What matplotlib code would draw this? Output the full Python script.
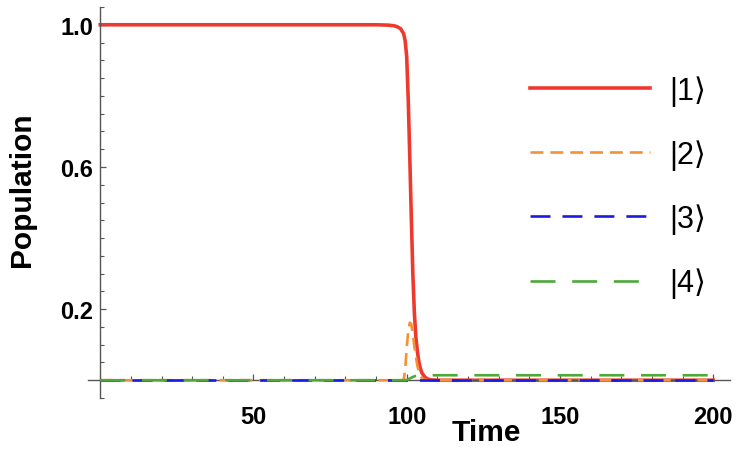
import matplotlib
matplotlib.use("Agg")
import matplotlib.pyplot as plt
from matplotlib.ticker import FixedLocator, MultipleLocator

plt.rcParams['font.family'] = ['Liberation Sans', 'DejaVu Sans']
plt.rcParams['lines.scale_dashes'] = False

# Data
time = [0, 90, 94, 96, 97, 98, 99, 99.5, 100, 100.5, 101, 101.5, 102, 102.5, 103,
        103.5, 104, 104.5, 105, 106, 107, 108, 110, 150, 200]
pop1 = [1.0, 1.0, 0.999, 0.997, 0.994, 0.989, 0.975, 0.955, 0.91, 0.79, 0.63, 0.46, 0.3, 0.19, 0.12,
        0.08, 0.05, 0.032, 0.02, 0.008, 0.003, 0.001, 0.0, 0.0, 0.0]
pop2 = [0.0, 0.0, 0.0, 0.0, 0.0, 0.0, 0.0, 0.03, 0.09, 0.14, 0.162, 0.158, 0.13, 0.095, 0.065,
        0.04, 0.022, 0.011, 0.005, 0.001, 0.0, 0.0, 0.0, 0.0, 0.0]
pop3 = [0.0] * len(time)
pop4 = [0.0, 0.0, 0.0, 0.0, 0.0, 0.0, 0.0, 0.0, 0.001, 0.003, 0.005, 0.007, 0.009, 0.011, 0.012,
        0.013, 0.0135, 0.014, 0.014, 0.014, 0.014, 0.014, 0.014, 0.014, 0.014]
labels = ['|1⟩', '|2⟩', '|3⟩', '|4⟩']
colors = ['#EE3A2E', '#F39237', '#1A1AE6', '#4DAA3A']

fig = plt.figure(figsize=(7.41, 4.52), dpi=100)
ax = fig.add_axes([88/741, 53/452, 642/741, 391/452])

l1, = ax.plot(time, pop1, color=colors[0], lw=2.6, label=labels[0], zorder=2)
l2, = ax.plot(time, pop2, color=colors[1], lw=1.9, label=labels[1], zorder=3)
l2.set_dashes([9.3, 5])
l3, = ax.plot(time, pop3, color=colors[2], lw=1.9, label=labels[2], zorder=4)
l3.set_dashes([14.4, 8.6])
l4, = ax.plot(time, pop4, color=colors[3], lw=1.9, label=labels[3], zorder=5)
l4.set_dashes([18, 12])

ax.set_xlim(-4, 205.5)
ax.set_ylim(-0.05, 1.05)

for s in ['top', 'right']:
    ax.spines[s].set_visible(False)
ax.spines['left'].set_position(('data', 0))
ax.spines['bottom'].set_position(('data', 0))
for s in ['left', 'bottom']:
    ax.spines[s].set_color('#555555')
    ax.spines[s].set_linewidth(1.0)

ax.xaxis.set_major_locator(FixedLocator([50, 100, 150, 200]))
ax.xaxis.set_minor_locator(MultipleLocator(10))
ax.yaxis.set_major_locator(FixedLocator([0.2, 0.6, 1.0]))
ax.yaxis.set_minor_locator(FixedLocator([i * 0.05 - 0.05 for i in range(23)]))
ax.set_yticklabels(['0.2', '0.6', '1.0'])
ax.set_xticklabels(['50', '100', '150', '200'])

ax.tick_params(axis='both', which='both', direction='in', color='#555555')
ax.tick_params(axis='both', which='major', length=4.5, width=0.9, labelsize=17)
ax.tick_params(axis='both', which='minor', length=3, width=0.8)
ax.tick_params(axis='y', which='major', pad=5)
ax.tick_params(axis='x', which='major', pad=18)
for lab in ax.get_xticklabels() + ax.get_yticklabels():
    lab.set_fontweight('bold')

fig.text(22/741, 1 - 190/452, 'Population', rotation=90, ha='center', va='center',
         fontsize=21.5, fontweight='bold')
fig.text(486/741, 1 - 433/452, 'Time', ha='center', va='center',
         fontsize=21.5, fontweight='bold')

leg = ax.legend(handles=[l1, l2, l3, l4], loc='upper left',
                bbox_to_anchor=(530/741, 1 - 76/452), bbox_transform=fig.transFigure,
                frameon=False, fontsize=22, handlelength=3.92, handletextpad=0.65,
                labelspacing=1.1, borderpad=0, borderaxespad=0)

fig.savefig('out.png', dpi=100)
